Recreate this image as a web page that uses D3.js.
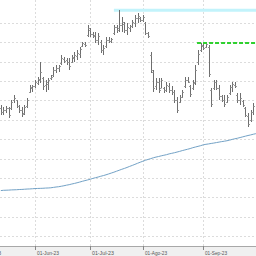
<!DOCTYPE html>
<html><head><meta charset="utf-8">
<script src="https://cdn.jsdelivr.net/npm/d3@7"></script>
<style>html,body{margin:0;padding:0;background:#fff;overflow:hidden}svg{display:block}</style>
</head><body><svg id="c" width="256" height="256"></svg>
<script>
// ---- data ----
const holidays = ["2023-05-29","2023-06-19","2023-07-04","2023-09-04"];
const firstBar = "2023-05-12";
const monthStarts = ["2023-05-01","2023-06-01","2023-07-01","2023-08-01","2023-09-01","2023-10-01"];
const monthLabels = ["01-May-23","01-Jun-23","01-Jul-23","01-Ago-23","01-Sep-23","01-Oct-23"];
const gridValues = [400,420,440,460,480,500,520,540,560,580,600,620];

const openP = [
532.4,528.3,530.3,532.4,532.4,540.7,540.7,534.5,530.3,527.3,
534.5,548.9,553.1,555.1,558.2,561.3,563.4,556.2,557.2,563.4,
566.5,571.7,573.7,578.9,583.0,582.0,579.9,579.9,584.1,586.1,
588.2,596.5,598.5,607.8,613.0,608.9,607.8,602.7,600.6,592.3,
596.5,602.7,601.6,609.9,616.1,615.1,618.2,619.2,613.0,615.1,
617.1,620.2,625.4,625.4,623.3,620.2,609.9,587.2,569.6,555.1,
559.3,553.1,553.1,551.0,555.1,551.0,548.9,540.7,538.6,543.8,
555.1,561.3,555.1,553.1,559.3,579.9,592.3,596.5,595.4,595.4,
551.0,553.1,559.3,553.1,544.8,540.7,538.6,547.9,554.1,556.2,
545.8,540.7,539.6,532.4,524.1,520.0,528.3];
const highP = [
535.5,533.4,534.5,533.4,540.7,545.8,540.7,535.5,533.4,535.5,
542.7,556.2,556.2,561.3,564.4,579.9,564.4,561.3,563.4,566.5,
574.8,576.8,576.8,587.2,585.1,584.1,584.1,587.2,590.3,592.3,
595.4,600.6,600.6,618.2,615.1,610.9,610.9,609.9,602.7,597.5,
605.8,605.8,604.7,618.2,618.2,633.7,626.4,621.3,620.2,618.2,
623.3,628.5,630.6,626.4,628.5,621.3,610.9,590.3,571.7,563.4,
563.4,563.4,554.1,559.3,558.2,555.1,551.0,543.8,545.8,551.0,
564.4,564.4,556.2,561.3,576.8,592.3,599.6,599.6,599.6,597.5,
553.1,561.3,561.3,556.2,545.8,545.8,545.8,556.2,559.3,559.3,
547.9,547.9,540.7,533.4,527.3,530.3,537.6];
const lowP = [
525.2,525.2,527.3,522.1,530.3,537.6,532.4,527.3,523.1,525.2,
532.4,547.9,548.9,553.1,556.2,558.2,551.0,548.9,551.0,561.3,
564.4,568.6,569.6,576.8,578.9,576.8,571.7,578.9,579.9,582.0,
584.1,595.4,595.4,605.8,605.8,604.7,599.6,597.5,589.2,587.2,
594.4,599.6,599.6,607.8,609.9,610.9,610.9,609.9,607.8,610.9,
615.1,616.1,620.2,621.3,621.3,607.8,604.7,568.6,548.9,551.0,
547.9,553.1,547.9,548.9,547.9,545.8,537.6,527.3,537.6,542.7,
553.1,558.2,543.8,551.0,556.2,576.8,590.3,592.3,594.4,564.4,
533.4,551.0,551.0,540.7,538.6,533.4,537.6,545.8,548.9,553.1,
537.6,535.5,533.4,523.1,512.8,517.9,525.2];
const closeP = [
528.3,530.3,532.4,525.2,538.6,542.7,534.5,530.3,526.2,533.4,
540.7,554.1,555.1,559.3,562.4,569.6,555.1,559.3,561.3,564.4,
571.7,573.7,575.8,584.1,581.0,579.9,575.8,585.1,587.2,589.2,
593.4,599.6,597.5,615.1,608.9,606.8,602.7,606.8,592.3,594.4,
602.7,601.6,603.7,616.1,613.0,618.2,621.3,613.0,616.1,617.1,
621.3,625.4,627.5,623.3,626.4,609.9,606.8,571.7,553.1,559.3,
551.0,561.3,551.0,556.2,551.0,548.9,540.7,530.3,543.8,548.9,
561.3,559.3,546.9,558.2,571.7,588.2,597.5,594.4,598.5,567.5,
536.5,559.3,553.1,544.8,540.7,536.5,543.8,554.1,557.2,555.1,
540.7,542.7,535.5,525.2,515.9,528.3,534.5];
const maP = [
446.9,447.2,447.3,447.4,447.6,447.7,447.8,448.0,448.1,448.3,
448.5,448.6,448.8,449.0,449.1,449.2,449.3,449.5,449.6,449.8,
450.2,450.6,450.9,451.4,451.9,452.5,453.0,453.7,454.3,455.0,
455.7,456.5,457.2,457.9,458.6,459.5,460.2,460.9,461.7,462.4,
463.2,464.1,465.0,465.9,466.9,467.9,468.9,469.8,470.8,471.9,
472.9,474.0,475.1,476.2,477.2,478.2,479.1,479.9,480.8,481.5,
482.1,482.8,483.4,484.0,484.8,485.4,486.0,486.7,487.4,488.2,
488.9,489.6,490.3,491.2,491.9,492.6,493.3,494.2,494.7,495.1,
495.6,496.0,496.5,497.0,497.5,497.9,498.4,499.0,499.8,500.4,
501.0,501.7,502.4,503.1,503.8,504.4,505.1,505.7];
const cyanLevel = {from:"2023-07-17", value:633.2};
const greenLevel = {from:"2023-08-30", value:599.4};

// ---- calendar ----
const fmt = d3.timeFormat("%Y-%m-%d");
const calendar = d3.timeDay.range(new Date(2023,4,1), new Date(2023,9,3))
  .filter(d => d.getDay()%6 !== 0 && !holidays.includes(fmt(d))).map(fmt);
const idx = s => calendar.indexOf(s);
const firstIdx = idx(firstBar);
const barDates = calendar.slice(firstIdx);

const W = 256, H = 256, axisY = 246;
const x = d3.scaleLinear().domain([idx("2023-06-01"), idx("2023-10-02")]).range([35, 255.9]);
const y = d3.scaleLinear().domain([400, 620]).range([236, 23]);
const px = v => Math.round(v) + 0.5;

const svg = d3.select("#c");
svg.append("rect").attr("width", W).attr("height", H).attr("fill", "#fff");

// month tick positions: first trading day of each month
const monthIdx = monthStarts.map(m => calendar.findIndex(d => d >= m));

// grid
svg.append("g").selectAll("line").data(gridValues).join("line")
  .attr("x1", 0).attr("x2", W)
  .attr("y1", d => px(y(d))).attr("y2", d => px(y(d)))
  .attr("stroke", "#dcdcdc").attr("stroke-width", 1).attr("stroke-dasharray", "2,2");
svg.append("g").selectAll("line").data(monthIdx).join("line")
  .attr("x1", d => px(x(d))).attr("x2", d => px(x(d)))
  .attr("y1", 0).attr("y2", axisY)
  .attr("stroke", "#dcdcdc").attr("stroke-width", 1).attr("stroke-dasharray", "2,2");

// cyan level
svg.append("line")
  .attr("x1", x(idx(cyanLevel.from))).attr("x2", W)
  .attr("y1", y(cyanLevel.value)).attr("y2", y(cyanLevel.value))
  .attr("stroke", "#c2f3fb").attr("stroke-width", 3);

// moving average
const maLine = d3.line().x((d, i) => x(firstIdx + i)).y(d => y(d));
svg.append("path").datum(maP).attr("d", maLine)
  .attr("fill", "none").attr("stroke", "#73a2c6").attr("stroke-width", 1);

// OHLC bars
const bars = openP.map((o, i) => ({i: firstIdx + i, o, h: highP[i], l: lowP[i], c: closeP[i]}));
const g = svg.append("g").attr("stroke", "#6e6e6e").attr("stroke-width", 1);
bars.forEach(b => {
  const cx = px(x(b.i));
  g.append("line").attr("x1", cx).attr("x2", cx).attr("y1", Math.round(y(b.h))).attr("y2", Math.round(y(b.l)));
  g.append("line").attr("x1", cx - 1.5).attr("x2", cx).attr("y1", px(y(b.o))).attr("y2", px(y(b.o))).attr("stroke", "#9a9a9a");
  g.append("line").attr("x1", cx).attr("x2", cx + 1.5).attr("y1", px(y(b.c))).attr("y2", px(y(b.c))).attr("stroke", "#9a9a9a");
});

// green level
svg.append("line")
  .attr("x1", x(idx(greenLevel.from)) - 1).attr("x2", W)
  .attr("y1", Math.round(y(greenLevel.value))).attr("y2", Math.round(y(greenLevel.value)))
  .attr("stroke", "#2fd12f").attr("stroke-width", 2).attr("stroke-dasharray", "4,2");

// x axis
svg.append("rect").attr("x", 0).attr("y", axisY).attr("width", W).attr("height", H - axisY).attr("fill", "#f0f0f0");
svg.append("line").attr("x1", 0).attr("x2", W).attr("y1", axisY + 0.5).attr("y2", axisY + 0.5).attr("stroke", "#a8a8a8");
const ax = svg.append("g");
monthIdx.forEach((mi, k) => {
  const tx = px(x(mi));
  ax.append("line").attr("x1", tx).attr("x2", tx).attr("y1", axisY).attr("y2", axisY + 4).attr("stroke", "#888");
  ax.append("text").attr("x", tx + 1.5).attr("y", 254.5)
    .attr("font-family", "Liberation Sans, Arial, sans-serif").attr("font-size", 5.5)
    .attr("fill", "#555").attr("textLength", 22).attr("lengthAdjust", "spacingAndGlyphs")
    .text(monthLabels[k]);
});
</script></body></html>
